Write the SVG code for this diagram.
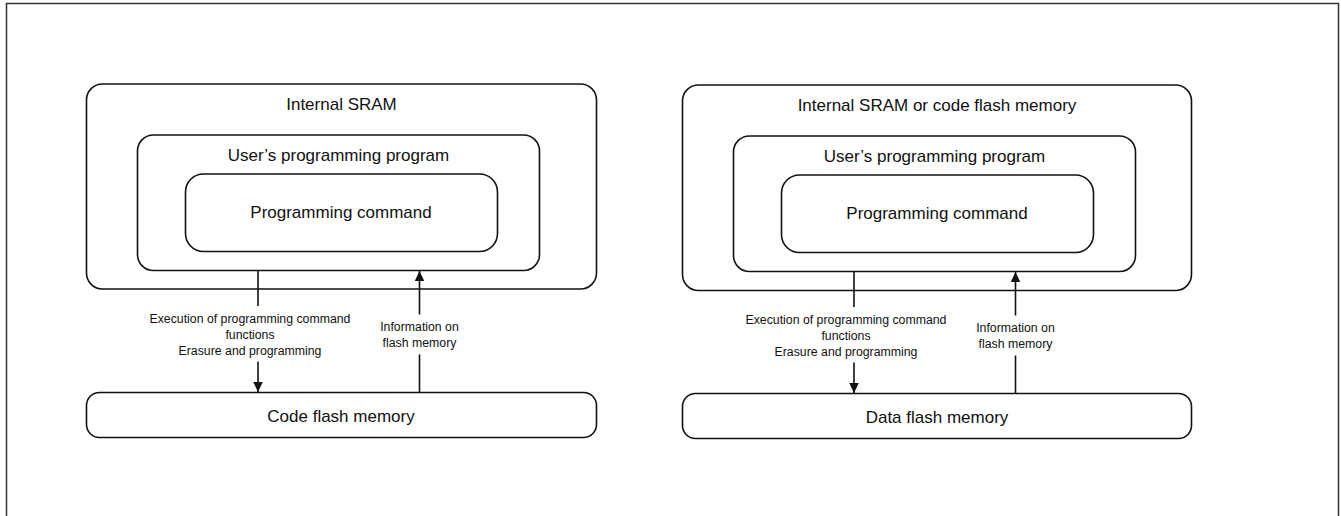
<svg xmlns="http://www.w3.org/2000/svg" width="1341" height="516" viewBox="0 0 1341 516">
<style>
.box{fill:#fff;stroke:#111;stroke-width:1.6}
.frame{fill:#fff;stroke:#333;stroke-width:1.5}
.big{font-family:"Liberation Sans",Arial,sans-serif;font-size:17px;fill:#111;text-anchor:middle}
.small{font-family:"Liberation Sans",Arial,sans-serif;font-size:12.3px;fill:#111;text-anchor:middle}
.conn{stroke:#111;stroke-width:1.6;fill:none}
</style>
<defs>
<marker id="ah" markerUnits="userSpaceOnUse" markerWidth="10" markerHeight="10" refX="10" refY="4.75" orient="auto">
<path d="M0,0 L10,4.75 L0,9.5 z" fill="#111"/>
</marker>
</defs>
<rect class="frame" x="6.5" y="3.5" width="1332" height="600"/>

<g id="left-sram">
<rect class="box" x="86.5" y="84" width="510" height="205" rx="16"/>
<text class="big" x="341.5" y="109.5">Internal SRAM</text>
</g>
<g id="left-user">
<rect class="box" x="137.5" y="135" width="402" height="135.5" rx="16"/>
<text class="big" x="338.5" y="161">User’s programming program</text>
</g>
<g id="left-cmd">
<rect class="box" x="185.5" y="174" width="312" height="77.5" rx="18"/>
<text class="big" x="341" y="217.5">Programming command</text>
</g>
<g id="left-flash">
<rect class="box" x="86.5" y="392.5" width="510" height="45" rx="13"/>
<text class="big" x="341" y="421.5">Code flash memory</text>
</g>

<g id="right-sram">
<rect class="box" x="682.5" y="85" width="509" height="205.5" rx="16"/>
<text class="big" x="937" y="110.5">Internal SRAM or code flash memory</text>
</g>
<g id="right-user">
<rect class="box" x="733.5" y="136" width="402" height="135.5" rx="16"/>
<text class="big" x="934.5" y="162">User’s programming program</text>
</g>
<g id="right-cmd">
<rect class="box" x="781.5" y="175" width="312" height="77.5" rx="18"/>
<text class="big" x="937" y="218.5">Programming command</text>
</g>
<g id="right-flash">
<rect class="box" x="682.5" y="393.5" width="509" height="45" rx="13"/>
<text class="big" x="937" y="422.5">Data flash memory</text>
</g>

<g id="connectors">
<line class="conn" x1="258" y1="270.5" x2="258" y2="306"/>
<line class="conn" x1="258" y1="361.5" x2="258" y2="392" marker-end="url(#ah)"/>
<line class="conn" x1="419.5" y1="392.5" x2="419.5" y2="354.5"/>
<line class="conn" x1="419.5" y1="314.5" x2="419.5" y2="271" marker-end="url(#ah)"/>
<line class="conn" x1="854" y1="271.5" x2="854" y2="307"/>
<line class="conn" x1="854" y1="362.5" x2="854" y2="393" marker-end="url(#ah)"/>
<line class="conn" x1="1015.5" y1="393.5" x2="1015.5" y2="355.5"/>
<line class="conn" x1="1015.5" y1="315.5" x2="1015.5" y2="272" marker-end="url(#ah)"/>
<text class="small" x="250" y="322.5">Execution of programming command</text>
<text class="small" x="250" y="338.7">functions</text>
<text class="small" x="250" y="355">Erasure and programming</text>
<text class="small" x="419.5" y="331">Information on</text>
<text class="small" x="419.5" y="347">flash memory</text>
<text class="small" x="846" y="323.5">Execution of programming command</text>
<text class="small" x="846" y="339.7">functions</text>
<text class="small" x="846" y="356">Erasure and programming</text>
<text class="small" x="1015.5" y="332">Information on</text>
<text class="small" x="1015.5" y="348">flash memory</text>
</g>
</svg>
